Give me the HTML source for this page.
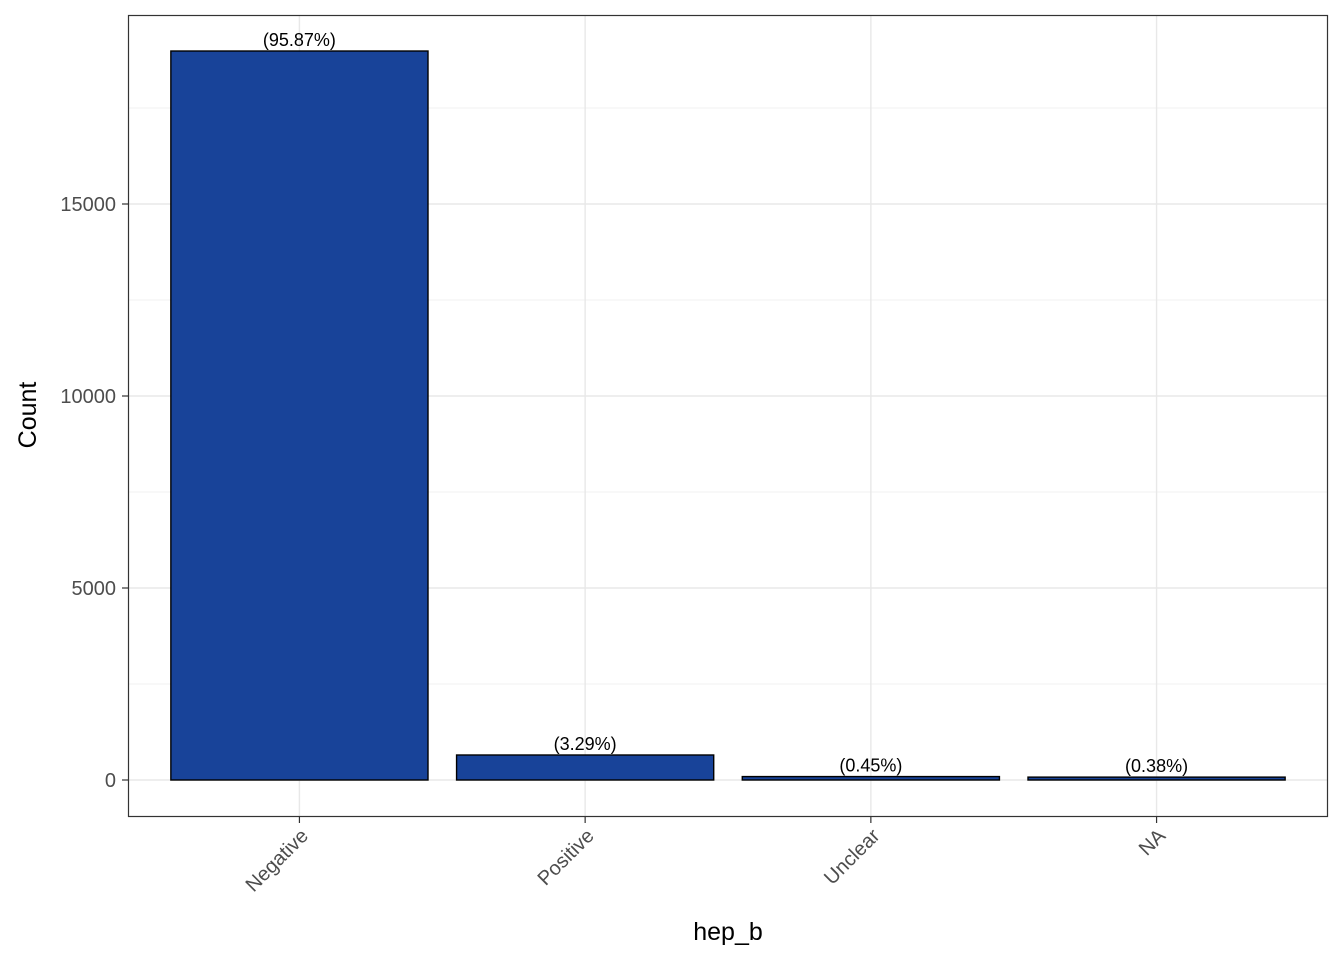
<!DOCTYPE html>
<html><head><meta charset="utf-8"><style>
body{margin:0;background:#fff;font-family:"Liberation Sans",Arial,sans-serif;}
</style></head><body>
<svg width="1344" height="960" xmlns="http://www.w3.org/2000/svg">
<g id="grid"></g>
<g id="bars"></g>
<g id="axes"></g>
<rect x="128.5" y="15.5" width="1199" height="801" fill="none" stroke="#333" stroke-width="1.2"/>
<text x="728" y="940" font-size="25" text-anchor="middle" fill="#000">hep_b</text>
<text transform="translate(36,415) rotate(-90)" font-size="25" text-anchor="middle" fill="#000">Count</text>
</svg>
<script>
const categories=["Negative","Positive","Unclear","NA"];
const counts=[18984,651,89,75];
const percents=["(95.87%)","(3.29%)","(0.45%)","(0.38%)"];
const yTicks=[0,5000,10000,15000];
const yMinor=[2500,7500,12500,17500];
const NS="http://www.w3.org/2000/svg";
const px0=128,px1=1328,py0=15,py1=817;
const y=v=>780-v*192/5000;
const step=(px1-px0)/(categories.length+0.2);
const x=i=>px0+step*(0.6+i);
const bw=step*0.9;
function mk(p,t,a){const e=document.createElementNS(NS,t);for(const k in a)e.setAttribute(k,a[k]);p.appendChild(e);return e;}
const grid=document.getElementById('grid'),bars=document.getElementById('bars'),axes=document.getElementById('axes');
yMinor.forEach(v=>{const l=mk(grid,'line',{x1:px0,x2:px1,y1:y(v),y2:y(v),stroke:'#f0f0f0','stroke-width':1});

});
yTicks.forEach(v=>{const l=mk(grid,'line',{x1:px0,x2:px1,y1:y(v),y2:y(v),stroke:'#e8e8e8','stroke-width':1.4});


const t=mk(axes,'line',{x1:px0-6,x2:px0,y1:y(v),y2:y(v),stroke:'#333','stroke-width':1.2});


const tx=mk(axes,'text',{x:px0-12,y:y(v)+7,'font-size':20,'text-anchor':'end',fill:'#4d4d4d'});
tx.textContent=v;

});
categories.forEach((c,i)=>{const cx=x(i);
const g=mk(grid,'line',{x1:cx,x2:cx,y1:py0,y2:py1,stroke:'#e8e8e8','stroke-width':1.4});


const b=mk(bars,'rect',{x:cx-bw/2,y:y(counts[i]),width:bw,height:Math.max(780-y(counts[i]),1),fill:'#184399',stroke:'#000','stroke-width':1.4});


const p=mk(bars,'text',{x:cx,y:y(counts[i])-5,'font-size':18,'text-anchor':'middle',fill:'#000'});
p.textContent=percents[i];


const t=mk(axes,'line',{x1:cx,x2:cx,y1:py1,y2:py1+6,stroke:'#333','stroke-width':1.2});


const tx=mk(axes,'text',{transform:`translate(${cx+10},${py1+20}) rotate(-45)`,'font-size':20,'text-anchor':'end',fill:'#4d4d4d'});
tx.textContent=c;

});
</script>
</body></html>
